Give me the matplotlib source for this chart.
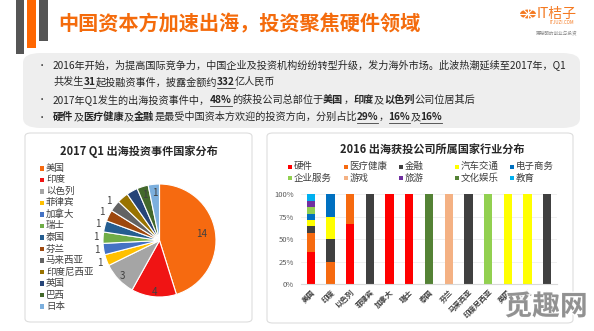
import numpy as np
import matplotlib
matplotlib.use('Agg')
import matplotlib.pyplot as plt
from matplotlib.patches import Rectangle, FancyBboxPatch, Circle
from matplotlib.lines import Line2D
import matplotlib.patheffects as pe

plt.rcParams['font.family'] = ['Noto Sans CJK SC', 'DejaVu Sans']

# Canvas size in pixels
W, H = 594, 331

# Texts
main_title = '中国资本方加速出海，投资聚焦硬件领域'
pie_title = '2017 Q1 出海投资事件国家分布'
bar_title = '2016 出海获投公司所属国家行业分布'

# Pie data: investment events per country
countries = ['美国', '印度', '以色列', '菲律宾', '加拿大', '瑞士', '泰国', '芬兰',
             '马来西亚', '印度尼西亚', '英国', '巴西', '日本']
events = [14, 4, 3, 1, 1, 1, 1, 1, 1, 1, 1, 1, 1]
label_shown = [True, True, True, True, True, True, True, True, True, False, False, True, True]

# Bar data: invested companies per country and industry
industries = ['硬件', '医疗健康', '金融', '汽车交通', '电子商务', '企业服务', '游戏', '旅游', '文化娱乐', '教育']
hardware = [5, 0, 2, 0, 1, 1, 0, 0, 0, 0, 0, 0, 0]
healthcare = [3, 1, 1, 0, 0, 0, 0, 0, 0, 0, 0, 0, 0]
finance = [1, 1, 0, 1, 0, 0, 0, 0, 1, 0, 0, 0, 1]
auto = [1, 1, 0, 0, 0, 0, 0, 0, 0, 0, 1, 1, 0]
ecommerce = [1, 1, 0, 0, 0, 0, 0, 0, 0, 0, 0, 0, 0]
enterprise = [1, 0, 0, 0, 0, 0, 0, 0, 0, 1, 0, 0, 0]
games = [0, 0, 0, 0, 0, 0, 0, 1, 0, 0, 0, 0, 0]
travel = [1, 0, 0, 0, 0, 0, 0, 0, 0, 0, 0, 0, 0]
culture = [0, 0, 0, 0, 0, 0, 1, 0, 0, 0, 0, 0, 0]
education = [1, 0, 0, 0, 0, 0, 0, 0, 0, 0, 0, 0, 0]
y_ticks = [0, 0.25, 0.5, 0.75, 1.0]
y_ticklabels = ['0%', '25%', '50%', '75%', '100%']

# Bullet lines: (text, bold, underline)
bullets = [
    [[('2016年开始，为提高国际竞争力，中国企业及投资机构纷纷转型升级，发力海外市场。此波热潮延续至2017年，Q1', 0, 0)],
     [('共发生', 0, 0), ('31', 1, 1), ('起投融资事件，披露金额约', 0, 0), ('332', 1, 1), ('亿人民币', 0, 0)]],
    [[('2017年Q1发生的出海投资事件中，', 0, 0), ('48%', 1, 1), ('的获投公司总部位于', 0, 0), ('美国', 1, 0),
      ('，', 0, 0), ('印度', 1, 0), ('及', 0, 0), ('以色列', 1, 0), ('公司位居其后', 0, 0)]],
    [[('硬件', 1, 0), ('及', 0, 0), ('医疗健康', 1, 0), ('及', 0, 0), ('金融', 1, 0),
      ('是最受中国资本方欢迎的投资方向，分别占比', 0, 0), ('29%', 1, 1), ('，', 0, 0),
      ('16%', 1, 1), ('及', 0, 0), ('16%', 1, 1)]],
]

# Colours
pie_colors = ['#F66A10', '#F01414', '#A5A5A5', '#FFC000', '#4472C4', '#70AD47', '#255E91',
              '#9E480E', '#636363', '#997300', '#264478', '#43682B', '#7CAFDD']
bar_colors = ['#FF0000', '#F66A10', '#404040', '#FFFF00', '#0070C0', '#92D050',
              '#F4B183', '#7030A0', '#548235', '#00B0F0']
orange = '#F46B0C'
txt_col = '#262626'

fig = plt.figure(figsize=(W / 100, H / 100), dpi=100)
fig.patch.set_facecolor('white')
renderer = fig.canvas.get_renderer()


def fx(x):
    return x / W


def fy(y):
    return 1 - y / H


def box(x0, y0, x1, y1, **kw):
    # rectangle given in pixel coords from the top-left corner
    return Rectangle((fx(x0), fy(y1)), (x1 - x0) / W, (y1 - y0) / H,
                     transform=fig.transFigure, **kw)


# Decorative bars top left
fig.add_artist(box(16, 0, 24, 54, color='#555555', lw=0))
fig.add_artist(box(27, 0, 36, 48, color='#FF6600', lw=0))
fig.add_artist(box(39, 0, 48, 41, color='#555555', lw=0))

# Title
fig.text(fx(58), fy(24), main_title, fontsize=14.5, fontweight='bold', color=orange,
         ha='left', va='center')

# Logo
logo = Circle((fx(528), fy(14)), 8 / W, transform=fig.transFigure, color='#F47920', lw=0)
fig.add_artist(logo)
for a in np.arange(0, 180, 45):
    dx, dy = 8 * np.cos(np.radians(a)), 8 * np.sin(np.radians(a))
    fig.add_artist(Line2D([fx(528 - dx), fx(528 + dx)], [fy(14 - dy), fy(14 + dy)],
                          color='white', lw=0.8))
fig.add_artist(Circle((fx(528), fy(14)), 1.5 / W, transform=fig.transFigure, color='white', lw=0))
fig.text(fx(537), fy(14), 'IT桔子', fontsize=10, color='#F47920', ha='left', va='center')
fig.text(fx(562), fy(23), 'ITJUZI.COM', fontsize=3.2, color='#F47920', ha='center', va='center')
fig.text(fx(557), fy(33), '更聪明的创业与投资', fontsize=3.3, color='#8C8C8C', ha='center', va='center')

# Bullet box
fig.add_artist(FancyBboxPatch((fx(23), fy(128)), (580 - 23) / W, (128 - 53) / H,
                              boxstyle='round,pad=0,rounding_size=0.03',
                              transform=fig.transFigure, fc='#EEEEEE', ec='none', zorder=-2))


def rich_line(x, y, parts, size=7.3):
    cx = x
    for text, bold, ul in parts:
        t = fig.text(fx(cx), fy(y), text, fontsize=size, color=txt_col,
                     fontweight='bold' if bold else 'normal', ha='left', va='center')
        w = t.get_window_extent(renderer=renderer).width
        if ul:
            fig.add_artist(Line2D([fx(cx), fx(cx + w)], [fy(y + 6), fy(y + 6)],
                                  color='#404040', lw=0.6))
        cx += w


line_y = [65, 82, 100, 117]
k = 0
for item in bullets:
    fig.text(fx(42), fy(line_y[k]), '•', fontsize=6, color=txt_col, ha='center', va='center')
    for parts in item:
        rich_line(53, line_y[k], parts)
        k += 1

# Panels (behind the axes)
for x0, y0, x1, y1 in [(25, 133, 252, 322), (267, 133, 573, 323)]:
    fig.add_artist(FancyBboxPatch((fx(x0), fy(y1)), (x1 - x0) / W, (y1 - y0) / H,
                                  boxstyle='round,pad=0,rounding_size=0.01',
                                  transform=fig.transFigure, fc='white', ec='#DDDDDD',
                                  lw=0.8, zorder=-2))

# Pie chart
fig.text(fx(139), fy(152), pie_title, fontsize=8, fontweight='bold', color=txt_col,
         ha='center', va='center')
ax1 = fig.add_axes([fx(103), fy(297), 113 / W, 113 / H])
ax1.set_zorder(2)
wedges, _ = ax1.pie(events, colors=pie_colors, startangle=90, counterclock=False,
                    wedgeprops=dict(edgecolor='white', linewidth=0.8))
ax1.set_xlim(-1, 1)
ax1.set_ylim(-1, 1)
label_r = [0.75, 0.92, 0.9, 1.13, 1.13, 1.13, 1.13, 1.13, 1.13, 1.13, 1.13, 0.84, 0.84]
for i, w in enumerate(wedges):
    if not label_shown[i]:
        continue
    ang = np.radians((w.theta1 + w.theta2) / 2)
    ax1.text(label_r[i] * np.cos(ang), label_r[i] * np.sin(ang), str(events[i]),
             fontsize=7, color='#404040', ha='center', va='center', clip_on=False)

# Pie legend
for i, name in enumerate(countries):
    ly = 168.3 + i * (306.7 - 168.3) / (len(countries) - 1)
    fig.add_artist(box(39.5, ly - 2.3, 44, ly + 2.2, color=pie_colors[i], lw=0))
    fig.text(fx(46), fy(ly), name, fontsize=6.8, color='#404040', ha='left', va='center')

# Stacked bar chart
fig.text(fx(432), fy(149), bar_title, fontsize=8, fontweight='bold', color=txt_col,
         ha='center', va='center')
ax2 = fig.add_axes([fx(301), fy(284), (557 - 301) / W, (284 - 194.3) / H])
ax2.set_zorder(2)
ax2.patch.set_alpha(0)
series = [hardware, healthcare, finance, auto, ecommerce, enterprise, games, travel, culture, education]
totals = np.sum(np.array(series), axis=0)
x = np.arange(len(countries))
bottom = np.zeros(len(countries))
for vals, col in zip(series, bar_colors):
    share = np.array(vals) / totals
    ax2.bar(x, share, 0.42, bottom=bottom, color=col, zorder=2)
    bottom += share
ax2.set_xlim(-0.5, len(countries) - 0.5)
ax2.set_ylim(0, 1)
ax2.set_yticks(y_ticks)
ax2.set_yticklabels(y_ticklabels, fontsize=5.5, color='#595959')
ax2.set_xticks(x)
ax2.set_xticklabels(countries, fontsize=5.3, fontweight='bold', color='#404040',
                    rotation=45, ha='right', rotation_mode='anchor')
ax2.tick_params(length=0, pad=3)
ax2.tick_params(axis='y', pad=5)
ax2.grid(axis='y', color='#EEEEEE', lw=0.6, zorder=0)
for s in ['top', 'right', 'left']:
    ax2.spines[s].set_visible(False)
ax2.spines['bottom'].set_color('#D9D9D9')
ax2.spines['bottom'].set_linewidth(0.8)

# Bar legend
leg_x = [290, 345.7, 401, 456.7, 512]
leg_y = [166.7, 178.3]
for i, name in enumerate(industries):
    lx, ly = leg_x[i % 5], leg_y[i // 5]
    fig.add_artist(box(lx - 2.2, ly - 2.2, lx + 2.2, ly + 2.2, color=bar_colors[i], lw=0))
    fig.text(fx(lx + 3.5), fy(ly), name, fontsize=6.8, color='#404040', ha='left', va='center')

# Watermark
wm = fig.text(fx(546), fy(307), '觅趣网', fontsize=20, fontweight='bold', color='#8E8E8E',
              ha='center', va='center', alpha=0.95,
              path_effects=[pe.withStroke(linewidth=2, foreground='white')])
wm.set_zorder(5)

fig.savefig('out.png', dpi=100)
